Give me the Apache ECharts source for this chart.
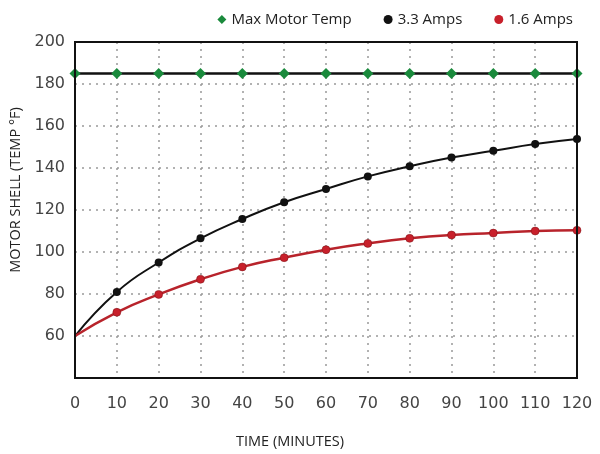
<!DOCTYPE html>
<html><head><meta charset="utf-8">
<script src="https://cdn.jsdelivr.net/npm/echarts@6/dist/echarts.min.js"></script>
<style>html,body{margin:0;padding:0;background:#fff}#c{width:600px;height:454px}</style>
</head><body><div id="c"></div>
<script>
const minutes = [0,10,20,30,40,50,60,70,80,90,100,110,120];
const maxMotorTemp = [185,185,185,185,185,185,185,185,185,185,185,185,185];
const amps33 = [60,81,95,106.5,115.7,123.7,130,136,140.8,145,148.2,151.4,153.8];
const amps16 = [60,71.3,79.8,87,92.9,97.3,101.1,104.1,106.5,108.1,109,110,110.3];
const yTicks = [60,80,100,120,140,160,180,200];

const pts = (arr) => arr.map((v,i)=>[minutes[i], v]);
const chart = echarts.init(document.getElementById('c'));
const tickFont = {fontFamily:'DejaVu Sans', fontSize:16, color:'#444'};
const nameFont = {fontFamily:'Open Sans', fontSize:14.5, color:'#222'};
chart.setOption({
  animation:false,
  legend:{
    top:7, right:22, itemGap:32, itemWidth:9, itemHeight:9,
    textStyle:{fontFamily:'Open Sans', fontSize:15, color:'#222'},
    data:[{name:'Max Motor Temp', icon:'diamond', itemStyle:{color:'#1a8a3c'}},
          {name:'3.3 Amps', icon:'circle', itemStyle:{color:'#111'}},
          {name:'1.6 Amps', icon:'circle', itemStyle:{color:'#c8202b', borderWidth:0}}]
  },
  grid:{left:75, right:23, top:42, bottom:76, show:true, borderColor:'#111', borderWidth:2, z:10},
  xAxis:{
    type:'value', min:0, max:120, interval:10,
    axisLine:{show:false}, axisTick:{show:false},
    axisLabel:Object.assign({margin:18}, tickFont),
    splitLine:{show:true, showMinLine:false, showMaxLine:false, lineStyle:{type:[2,5], color:'#999', width:1.5}},
    name:'TIME (MINUTES)', nameLocation:'middle', nameGap:56,
    nameTextStyle:Object.assign({padding:[0,72,0,0]}, nameFont)
  },
  yAxis:{
    type:'value', min:40, max:200, interval:20,
    axisLine:{show:false}, axisTick:{show:false},
    axisLabel:Object.assign({margin:10, formatter:(v)=> yTicks.includes(v) ? String(v) : ''}, tickFont),
    splitLine:{show:true, showMinLine:false, showMaxLine:false, lineStyle:{type:[2,5], color:'#999', width:1.5}},
    name:'MOTOR SHELL (TEMP °F)', nameLocation:'middle', nameGap:52,
    nameTextStyle:Object.assign({padding:[0,0,0,40]}, nameFont)
  },
  series:[
    {name:'Max Motor Temp', type:'line', data:pts(maxMotorTemp), symbol:'diamond', symbolSize:11,
      itemStyle:{color:'#1a8a3c'}, lineStyle:{color:'#111', width:2.5}, clip:false, z:5},
    {name:'3.3 Amps', type:'line', smooth:true, data:pts(amps33),
      symbol:'circle', symbolSize:(v,p)=> p.dataIndex===0 ? 0 : 8,
      itemStyle:{color:'#111'}, lineStyle:{color:'#111', width:2}, clip:false},
    {name:'1.6 Amps', type:'line', smooth:true, data:pts(amps16),
      symbol:'circle', symbolSize:(v,p)=> p.dataIndex===0 ? 0 : 8,
      itemStyle:{color:'#c8202b', borderColor:'#7a1015', borderWidth:0.5}, lineStyle:{color:'#b8232b', width:2.5}, clip:false}
  ]
});
</script></body></html>
